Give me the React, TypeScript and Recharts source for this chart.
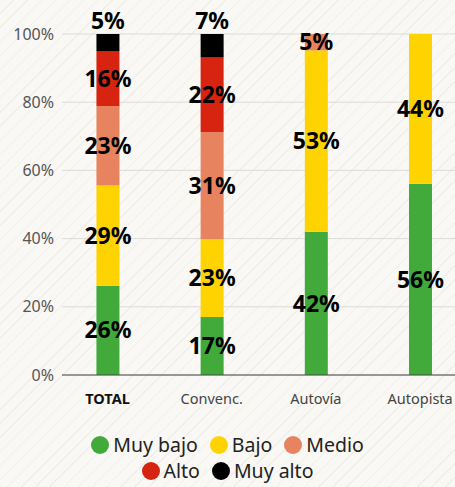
import { BarChart, Bar, XAxis, YAxis, CartesianGrid, Legend, LabelList } from "recharts";

const categories = ["TOTAL", "Convenc.", "Autovía", "Autopista"];
const muyBajo = [26.2, 17.0, 42.0, 56.1];
const bajo = [29.4, 22.8, 53.2, 43.9];
const medio = [23.3, 31.4, 4.8, 0];
const alto = [16.1, 21.9, 0, 0];
const muyAlto = [5.0, 6.9, 0, 0];
const yTicks = [0, 20, 40, 60, 80, 100];

const SERIES = [
    { key: "muyBajo", name: "Muy bajo", color: "#41aa3b" },
    { key: "bajo", name: "Bajo", color: "#ffd300" },
    { key: "medio", name: "Medio", color: "#e8835f" },
    { key: "alto", name: "Alto", color: "#d62411" },
    { key: "muyAlto", name: "Muy alto", color: "#000000" },
];

const data = categories.map((name, i) => ({
    i,
    name,
    muyBajo: muyBajo[i],
    bajo: bajo[i],
    medio: medio[i],
    alto: alto[i],
    muyAlto: muyAlto[i],
}));

const fmt = (v: any) => (v ? `${Math.round(Number(v))}%` : "");

const XTick = (props: any) => {
    const { x, y, payload } = props;
    const label = categories[payload.value] ?? "";
    const isTotal = label === "TOTAL";
    return (
        <text
            x={x}
            y={y}
            dy={21}
            textAnchor="middle"
            fontSize={14.5}
            fontWeight={isTotal ? 700 : 400}
            fill={isTotal ? "#111" : "#444"}
            fontFamily="'Noto Sans', sans-serif"
        >
            {label}
        </text>
    );
};

const LegendBox = () => (
    <div
        style={{
            height: 70,
            paddingTop: 15,
            boxSizing: "border-box",
            display: "flex",
            flexWrap: "wrap",
            justifyContent: "center",
            alignContent: "flex-start",
            margin: "0 auto",
            width: 310,
            fontFamily: "'Noto Sans', sans-serif",
            fontSize: 19.5,
            lineHeight: "26px",
            color: "#222",
        }}
    >
        {SERIES.map((s) => (
            <span key={s.key} style={{ display: "inline-flex", alignItems: "center", height: 26, margin: "0 6px" }}>
                <span style={{ width: 18, height: 18, borderRadius: 9, background: s.color, marginRight: 4 }} />
                {s.name}
            </span>
        ))}
    </div>
);

export default function App() {
    return (
        <div
            style={{
                position: "fixed",
                left: 0,
                top: 0,
                width: 455,
                height: 487,
                overflow: "hidden",
                background:
                    "repeating-linear-gradient(135deg, #f9f8f5 0px, #f9f8f5 9px, #f0eee9 9px, #f0eee9 10px)",
            }}
        >
            <BarChart width={455} height={487} data={data} margin={{ top: 34, right: 0, left: 0, bottom: 0 }}>
                <CartesianGrid vertical={false} stroke="#dcdbd8" />
                <XAxis
                    type="number"
                    dataKey="i"
                    domain={[-0.437, 3.335]}
                    ticks={[0, 1, 2, 3]}
                    allowDataOverflow
                    height={42}
                    tickLine={false}
                    axisLine={{ stroke: "#444" }}
                    tick={<XTick />}
                />
                <YAxis
                    width={62}
                    domain={[0, 100]}
                    ticks={yTicks}
                    tickFormatter={(v) => `${v}%`}
                    tickLine={false}
                    axisLine={false}
                    tick={{ fill: "#555", fontSize: 16, fontFamily: "'Noto Sans', sans-serif" }}
                />
                <Legend verticalAlign="bottom" height={70} content={<LegendBox />} />
                {SERIES.map((s) => (
                    <Bar key={s.key} dataKey={s.key} name={s.name} stackId="a" fill={s.color} barSize={23} isAnimationActive={false}>
                        <LabelList
                            dataKey={s.key}
                            position={s.key === "muyAlto" ? "top" : "center"}
                            formatter={fmt}
                            fill="#000"
                            fontSize={23}
                            fontWeight={700}
                            fontFamily="'Noto Sans', sans-serif"
                        />
                    </Bar>
                ))}
            </BarChart>
        </div>
    );
}
